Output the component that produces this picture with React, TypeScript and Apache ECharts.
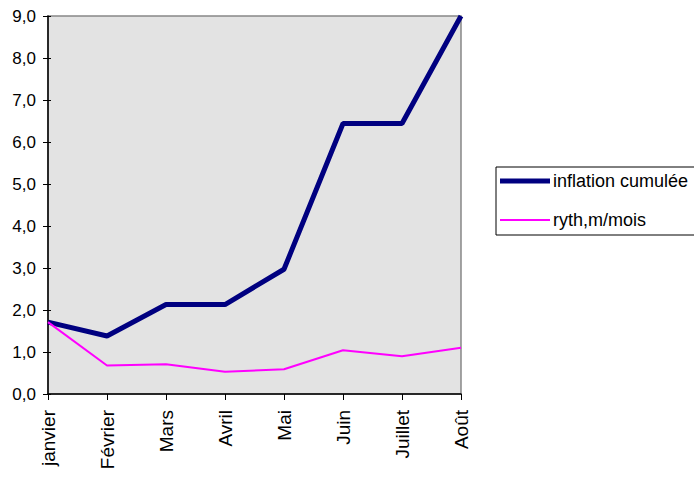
import React, { useEffect, useRef } from "react";
import * as echarts from "echarts";

const months = ["janvier", "Février", "Mars", "Avril", "Mai", "Juin", "Juillet", "Août"];
const inflationCumulee = [1.71, 1.38, 2.13, 2.13, 2.97, 6.44, 6.44, 9.0];
const rythmeMensuel = [1.71, 0.68, 0.71, 0.53, 0.59, 1.04, 0.9, 1.1];
const seriesNames = ["inflation cumulée", "ryth,m/mois"];
const yMin = 0;
const yMax = 9;
const yStep = 1;

const FONT = "'Liberation Sans', Arial, sans-serif";

export default function App() {
  const ref = useRef<HTMLDivElement>(null);
  useEffect(() => {
    if (!ref.current) return;
    const chart = echarts.init(ref.current, null, { renderer: "svg" });
    const fmt = (v: number) => v.toFixed(1).replace(".", ",");
    chart.setOption({
      animation: false,
      backgroundColor: "#ffffff",
      textStyle: { fontFamily: FONT },
      grid: {
        left: 48,
        right: 233,
        top: 16,
        bottom: 86,
        show: true,
        backgroundColor: "#e3e3e3",
        borderColor: "#888888",
        borderWidth: 1.5,
      },
      legend: {
        orient: "vertical",
        left: 496,
        top: 167,
        padding: [5, 8, 6, 4],
        itemWidth: 50,
        itemHeight: 20,
        itemGap: 21,
        symbolKeepAspect: true,
        borderColor: "#000000",
        borderWidth: 1,
        borderRadius: 0,
        backgroundColor: "#ffffff",
        textStyle: { fontFamily: FONT, fontSize: 18, color: "#000", padding: [0, 0, 0, -2] },
        data: [
          { name: seriesNames[0], icon: "path://M0,0H50V5H0Z" },
          { name: seriesNames[1], icon: "path://M0,0H50V2H0Z" },
        ],
      },
      xAxis: {
        type: "category",
        data: months,
        boundaryGap: false,
        axisLine: { show: true, lineStyle: { color: "#000", width: 1.5 } },
        axisTick: { show: true, length: 6, lineStyle: { color: "#000" } },
        axisLabel: {
          rotate: 90,
          margin: 16,
          fontFamily: FONT,
          fontSize: 19,
          color: "#000",
          interval: 0,
        },
        splitLine: { show: false },
      },
      yAxis: [
        {
          type: "value",
          min: yMin,
          max: yMax,
          interval: yStep,
          axisLine: { show: true, lineStyle: { color: "#000", width: 1.5 } },
          axisTick: { show: true, length: 5, lineStyle: { color: "#000" } },
          axisLabel: {
            margin: 12,
            fontFamily: FONT,
            fontSize: 17,
            color: "#000",
            formatter: fmt,
          },
          splitLine: { show: false },
        },
        {
          type: "value",
          position: "left",
          min: yMin,
          max: yMax,
          interval: yStep,
          axisLine: { show: false },
          axisTick: { show: true, inside: true, length: 3, lineStyle: { color: "#000" } },
          axisLabel: { show: false },
          splitLine: { show: false },
        },
      ],
      series: [
        {
          name: seriesNames[0],
          type: "line",
          data: inflationCumulee,
          yAxisIndex: 0,
          symbol: "none",
          lineStyle: { color: "#000080", width: 5 },
          itemStyle: { color: "#000080" },
        },
        {
          name: seriesNames[1],
          type: "line",
          data: rythmeMensuel,
          yAxisIndex: 0,
          symbol: "none",
          lineStyle: { color: "#ff00ff", width: 2 },
          itemStyle: { color: "#ff00ff" },
        },
      ],
    });
    return () => chart.dispose();
  }, []);
  return (
    <div
      ref={ref}
      style={{ position: "fixed", left: 0, top: 0, width: 694, height: 480 }}
    />
  );
}
